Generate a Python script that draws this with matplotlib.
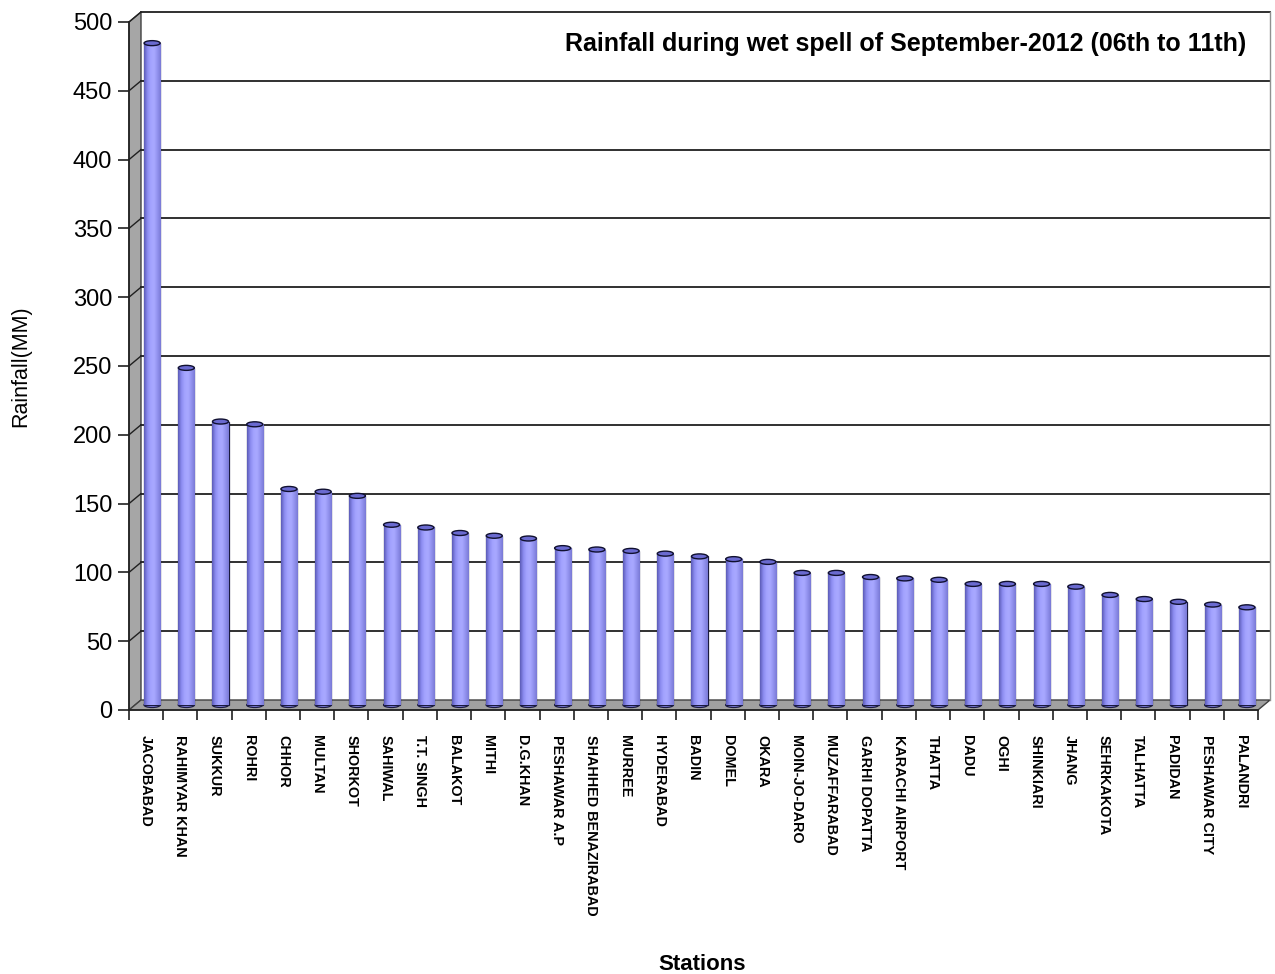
import matplotlib
matplotlib.use("Agg")
import matplotlib.pyplot as plt
from matplotlib.patches import Polygon, Ellipse
from matplotlib.colors import LinearSegmentedColormap
import numpy as np

plt.rcParams['font.family'] = ['Liberation Sans', 'DejaVu Sans']

stations = ["JACOBABAD", "RAHIMYAR KHAN", "SUKKUR", "ROHRI", "CHHOR", "MULTAN",
            "SHORKOT", "SAHIWAL", "T.T. SINGH", "BALAKOT", "MITHI", "D.G.KHAN",
            "PESHAWAR A.P", "SHAHHED BENAZIRABAD", "MURREE", "HYDERABAD", "BADIN",
            "DOMEL", "OKARA", "MOIN-JO-DARO", "MUZAFFARABAD", "GARHI DOPATTA",
            "KARACHI AIRPORT", "THATTA", "DADU", "OGHI", "SHINKIARI", "JHANG",
            "SEHRKAKOTA", "TALHATTA", "PADIDAN", "PESHAWAR CITY", "PALANDRI"]
rainfall = [481, 245, 206, 204, 157, 155, 152, 131, 129, 125, 123, 121,
            114, 113, 112, 110, 108, 106, 104, 96, 96, 93, 92, 91,
            88, 88, 88, 86, 80, 77, 75, 73, 71]
yticks = [0, 50, 100, 150, 200, 250, 300, 350, 400, 450, 500]

fig = plt.figure(figsize=(12.75, 9.74), dpi=100)
ax = fig.add_axes([129 / 1275, 264 / 974, 1129 / 1275, 688 / 974])
n = len(stations)
ax.set_xlim(-0.5, n - 0.5)
ax.set_ylim(0, 500)

# depth of the fake 3d box, in data units (about 12px right, 10px up)
px_x = n / 1129.0
px_y = 500 / 688.0
DX = 12 * px_x
DY = 10 * px_y
x0, x1 = -0.5, n - 0.5

for s in ax.spines.values():
    s.set_visible(False)

# left wall and floor
wall = Polygon([[x0, 0], [x0, 500], [x0 + DX, 500 + DY], [x0 + DX, DY]],
               closed=True, facecolor="#a6a6a6", edgecolor="#404040", lw=1.0,
               clip_on=False, zorder=1)
ax.add_patch(wall)
floor = Polygon([[x0, 0], [x1, 0], [x1 + DX, DY], [x0 + DX, DY]],
                closed=True, facecolor="#a0a0a0", edgecolor="#404040", lw=1.0,
                clip_on=False, zorder=1)
ax.add_patch(floor)

# back wall gridlines and frame
for v in yticks[1:]:
    ax.plot([x0 + DX, x1 + DX], [v + DY, v + DY], color="#202020", lw=1.3,
            clip_on=False, zorder=1)
    ax.plot([x0, x0 + DX], [v, v + DY], color="#202020", lw=1.0,
            clip_on=False, zorder=2)
ax.plot([x1 + DX, x1 + DX], [DY, 500 + DY], color="#909090", lw=1.0,
        clip_on=False, zorder=1)
ax.plot([x0, x0], [0, 500], color="#202020", lw=1.2, clip_on=False, zorder=3)
ax.plot([x0, x1], [0, 0], color="#202020", lw=1.2, clip_on=False, zorder=3)

# cylinders with a little shading
cyl = LinearSegmentedColormap.from_list(
    "cyl", ["#5c5cb8", "#8c8cf0", "#a4a4ff", "#a8a8ff", "#9292ee", "#7a7ad6"])
grad = np.linspace(0, 1, 64).reshape(1, -1)
xs = np.arange(n)
bw = 0.47
eh = 5 * px_y
bars = ax.bar(xs + DX / 2, rainfall, bottom=DY / 2, width=bw, color="#9999ff",
              edgecolor="#1a1a40", lw=0.9, zorder=4, clip_on=False)
for b in bars:
    im = ax.imshow(grad, cmap=cyl, aspect="auto", zorder=4.1,
                   extent=[b.get_x(), b.get_x() + b.get_width(),
                           b.get_y(), b.get_y() + b.get_height()])
    im.set_clip_path(b)
    ax.add_patch(Polygon(b.get_verts(), closed=True, fill=False,
                         edgecolor="#1a1a40", lw=0.9, zorder=4.2, clip_on=False))
for xi, v in zip(xs, rainfall):
    ax.add_patch(Ellipse((xi + DX / 2, DY / 2), bw, eh, facecolor="#8c8cf0",
                         edgecolor="#1a1a40", lw=0.9, zorder=3.9, clip_on=False))
    ax.add_patch(Ellipse((xi + DX / 2, v + DY / 2), bw, eh, facecolor="#6a6ad0",
                         edgecolor="#101030", lw=1.0, zorder=5, clip_on=False))
ax.set_xlim(-0.5, n - 0.5)
ax.set_ylim(0, 500)

# y axis
ax.set_yticks(yticks)
ax.set_yticklabels([str(v) for v in yticks], fontsize=17)
ax.tick_params(axis="y", length=8, width=1.2, color="#202020", pad=4)
ax.set_ylabel("Rainfall(MM)", fontsize=15.5, labelpad=30)

# x axis: ticks at category boundaries, labels at centres
ax.set_xticks(np.arange(n + 1) - 0.5)
ax.set_xticklabels([])
ax.tick_params(axis="x", which="major", length=7, width=1.2, color="#202020")
ax.set_xticks(xs, minor=True)
ax.set_xticklabels(stations, minor=True, rotation=-90, fontsize=10.4,
                   fontweight="bold", va="top", ha="center")
ax.tick_params(axis="x", which="minor", length=0, pad=18)
ax.set_xlabel("Stations", fontsize=16, fontweight="bold")
ax.xaxis.set_label_coords(0.508, -0.355)

ax.text(0.99, 0.968, "Rainfall during wet spell of September-2012 (06th to 11th)",
        transform=ax.transAxes, ha="right", va="center", fontsize=18,
        fontweight="bold", zorder=6)

fig.savefig("out.png", dpi=100)
